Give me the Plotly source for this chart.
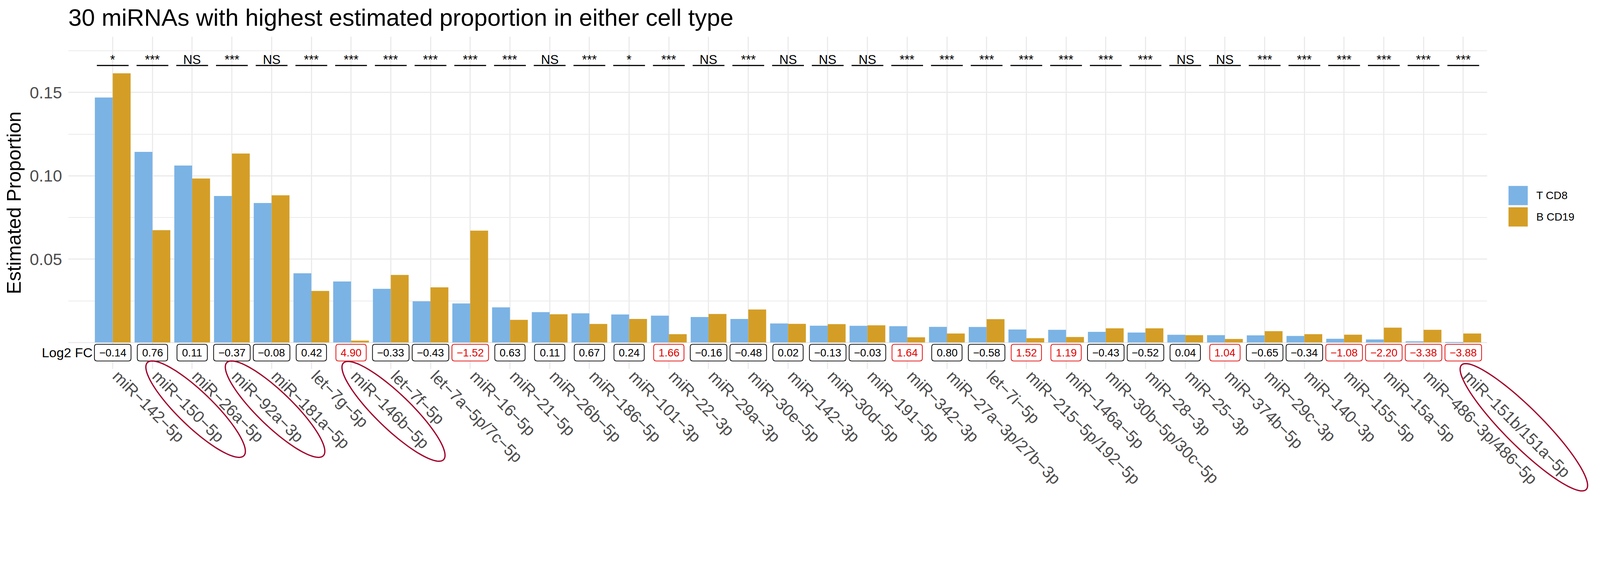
import math
import plotly.graph_objects as go

# ---------------- data ----------------
mirnas = ["miR-142-5p", "miR-150-5p", "miR-26a-5p", "miR-92a-3p", "miR-181a-5p",
          "let-7g-5p", "miR-146b-5p", "let-7f-5p", "let-7a-5p/7c-5p", "miR-16-5p",
          "miR-21-5p", "miR-26b-5p", "miR-186-5p", "miR-101-3p", "miR-22-3p",
          "miR-29a-3p", "miR-30e-5p", "miR-142-3p", "miR-30d-5p", "miR-191-5p",
          "miR-342-3p", "miR-27a-3p/27b-3p", "let-7i-5p", "miR-215-5p/192-5p", "miR-146a-5p",
          "miR-30b-5p/30c-5p", "miR-28-3p", "miR-25-3p", "miR-374b-5p", "miR-29c-3p",
          "miR-140-3p", "miR-155-5p", "miR-15a-5p", "miR-486-3p/486-5p", "miR-151b/151a-5p"]

t_cd8 = [0.1470, 0.1144, 0.1062, 0.0879, 0.0837, 0.0415, 0.0366, 0.0322, 0.0247, 0.0234,
         0.0211, 0.0182, 0.0175, 0.0168, 0.0161, 0.0153, 0.0141, 0.0114, 0.0101, 0.0100,
         0.0098, 0.0094, 0.0093, 0.0078, 0.0076, 0.0064, 0.0060, 0.0046, 0.0044, 0.0043,
         0.0039, 0.0022, 0.0018, 0.0007, 0.0003]

b_cd19 = [0.1615, 0.0674, 0.0984, 0.1134, 0.0883, 0.0309, 0.0011, 0.0405, 0.0331, 0.0671,
          0.0136, 0.0169, 0.0111, 0.0141, 0.0050, 0.0171, 0.0198, 0.0112, 0.0110, 0.0103,
          0.0031, 0.0054, 0.0140, 0.0026, 0.0033, 0.0085, 0.0085, 0.0044, 0.0021, 0.0068,
          0.0050, 0.0047, 0.0089, 0.0076, 0.0054]

log2fc = [-0.14, 0.76, 0.11, -0.37, -0.08, 0.42, 4.90, -0.33, -0.43, -1.52,
          0.63, 0.11, 0.67, 0.24, 1.66, -0.16, -0.48, 0.02, -0.13, -0.03,
          1.64, 0.80, -0.58, 1.52, 1.19, -0.43, -0.52, 0.04, 1.04, -0.65,
          -0.34, -1.08, -2.20, -3.38, -3.88]

signif = ["*", "***", "NS", "***", "NS", "***", "***", "***", "***", "***",
          "***", "NS", "***", "*", "***", "NS", "***", "NS", "NS", "NS",
          "***", "***", "***", "***", "***", "***", "***", "NS", "NS", "***",
          "***", "***", "***", "***", "***"]

highlighted = ["miR-150-5p", "miR-92a-3p", "miR-146b-5p", "miR-151b/151a-5p"]

y_ticks = [0, 0.05, 0.10, 0.15]
y_ticktext = ["", "0.05", "0.10", "0.15"]
y_minor = [0.025, 0.075, 0.125, 0.175]

# ---------------- style / layout ----------------
BLUE = "#7BB3E5"
GOLD = "#D49E26"
GRID = "#EBEBEB"
RED = "#E00000"
ELL = "#A0002A"
FONT = "Liberation Sans, Arial, Helvetica, sans-serif"
MINUS = "\u2212"

# geometry is designed in target-picture pixels, then mapped to page (CSS) pixels
S = 1.077      # picture px per CSS px
OFF = 8        # page body margin (CSS px)


def css(p):
    return p / S - OFF


def sz(p):
    return p / S


W = round(4425 / S) - 2 * OFF
H = round(1460 / S) - 2 * OFF
PL, PR, PT, PB = css(189), css(4100), css(101), css(1018)   # panel edges
ML, MR, MT, MB = PL, W - PR, PT, H - PB
pw, ph = PR - PL, PB - PT

xr = [-1.117, 34.60]
yr = [-0.01587, 0.18348]
SIG_Y = 0.1662
FC_Y = -0.00609
FC_FONT = 29.6
CHAR_W = {"0": .556, "1": .556, "2": .556, "3": .556, "4": .556, "5": .556, "6": .556,
          "7": .556, "8": .556, "9": .556, ".": .278, MINUS: .584}


def ref_x_of_cat(k):      # picture px of category index k
    return 189 + (k - xr[0]) / (xr[1] - xr[0]) * (4100 - 189)


def paper_x(p):
    return (css(p) - PL) / pw


def paper_y(p):
    return (PB - css(p)) / ph


def disp(s):
    return s.replace("-", MINUS)


def rounded_box(w, h, r):
    x0, x1, y0, y1 = -w / 2, w / 2, -h / 2, h / 2
    return (f"M {x0 + r},{y0} L {x1 - r},{y0} Q {x1},{y0} {x1},{y0 + r} "
            f"L {x1},{y1 - r} Q {x1},{y1} {x1 - r},{y1} L {x0 + r},{y1} "
            f"Q {x0},{y1} {x0},{y1 - r} L {x0},{y0 + r} Q {x0},{y0} {x0 + r},{y0} Z")


fig = go.Figure()
fig.add_bar(x=mirnas, y=t_cd8, name="T CD8", marker=dict(color=BLUE, line=dict(width=0)),
            showlegend=False)
fig.add_bar(x=mirnas, y=b_cd19, name="B CD19", marker=dict(color=GOLD, line=dict(width=0)),
            showlegend=False)

shapes = []
annotations = []

# significance bars + labels
for i, (m, s) in enumerate(zip(mirnas, signif)):
    shapes.append(dict(type="line", xref="x", yref="y", x0=i - 0.4, x1=i + 0.4,
                       y0=SIG_Y, y1=SIG_Y, line=dict(color="black", width=sz(3.3))))
    annotations.append(dict(x=m, y=SIG_Y, xref="x", yref="y", text=s, showarrow=False,
                            yanchor="bottom", yshift=-sz(6),
                            font=dict(family=FONT, size=sz(35), color="black")))

# log2 FC labels in rounded boxes
for i, (m, v) in enumerate(zip(mirnas, log2fc)):
    col = RED if abs(v) > 1 else "black"
    txt = disp(f"{v:.2f}")
    tw = sum(CHAR_W.get(c, .556) for c in txt) * FC_FONT
    shapes.append(dict(type="path", xref="x", yref="y", xsizemode="pixel",
                       ysizemode="pixel", xanchor=i, yanchor=FC_Y,
                       path=rounded_box(sz(tw + 26), sz(46), sz(7)),
                       fillcolor="white", line=dict(color=col, width=sz(2))))
    annotations.append(dict(x=m, y=FC_Y, xref="x", yref="y", text=txt,
                            showarrow=False, yanchor="middle", xanchor="center",
                            font=dict(family=FONT, size=sz(FC_FONT), color=col)))
annotations.append(dict(x=paper_x(258), y=FC_Y, xref="paper", yref="y", text="Log2 FC",
                        showarrow=False, xanchor="right", yanchor="middle",
                        font=dict(family=FONT, size=sz(36.5), color="black")))

# custom legend (large square keys)
leg = [("T CD8", BLUE, 513), ("B CD19", GOLD, 572)]
for name, col, top in leg:
    shapes.append(dict(type="rect", xref="paper", yref="paper",
                       x0=paper_x(4159), x1=paper_x(4212),
                       y0=paper_y(top + 53), y1=paper_y(top),
                       fillcolor=col, line=dict(width=0)))
    annotations.append(dict(x=paper_x(4233), y=paper_y(top + 26.5), xref="paper",
                            yref="paper", text=name, showarrow=False, xanchor="left",
                            yanchor="middle",
                            font=dict(family=FONT, size=sz(30), color="black")))


# ellipses around highlighted labels
def ellipse_path(cx, cy, a, b, ang_deg):
    ang = math.radians(ang_deg)
    pts = []
    for j in range(96):
        t = 2 * math.pi * j / 96
        ux, vy = a * math.cos(t), b * math.sin(t)
        X = cx + ux * math.cos(ang) - vy * math.sin(ang)
        Y = cy + ux * math.sin(ang) + vy * math.cos(ang)
        pts.append(f"{paper_x(X):.5f},{paper_y(Y):.5f}")
    return "M " + " L ".join(pts) + " Z"


ell_geom = {"miR-150-5p": (119, 1129, 185, 48, 44),
            "miR-92a-3p": (119, 1129, 185, 48, 44),
            "miR-146b-5p": (117, 1135, 192, 48, 44),
            "miR-151b/151a-5p": (167, 1179, 243, 52, 45)}
for m in highlighted:
    dx, cy, a, b, ang = ell_geom[m]
    k = mirnas.index(m)
    shapes.append(dict(type="path", xref="paper", yref="paper",
                       path=ellipse_path(ref_x_of_cat(k) + dx, cy, a, b, ang),
                       line=dict(color=ELL, width=sz(3.5))))

fig.update_layout(
    width=W, height=H, autosize=False,
    margin=dict(l=ML, r=MR, t=MT, b=MB, pad=0, autoexpand=False),
    paper_bgcolor="white", plot_bgcolor="white",
    barmode="group", bargap=0.1, bargroupgap=0,
    font=dict(family=FONT, color="black"),
    title=dict(text="30 miRNAs with highest estimated proportion in either cell type",
               x=0, xref="paper", xanchor="left", y=1 - (css(69) + 2) / H,
               yref="container", yanchor="bottom",
               font=dict(family=FONT, size=sz(66), color="black")),
    xaxis=dict(type="category", categoryorder="array", categoryarray=mirnas,
               tickmode="array", tickvals=mirnas, ticktext=[disp(m) for m in mirnas],
               tickangle=45, tickfont=dict(family=FONT, size=sz(45), color="#4D4D4D"),
               ticklabelstandoff=-15, ticklabelshift=12,
               range=xr, showgrid=True, gridcolor=GRID, gridwidth=sz(3.5),
               showline=False, zeroline=False, ticks="", automargin=False),
    yaxis=dict(range=yr, tickmode="array", tickvals=y_ticks, ticktext=y_ticktext,
               tickfont=dict(family=FONT, size=sz(46), color="#4D4D4D"),
               showgrid=True, gridcolor=GRID, gridwidth=sz(3.5), zeroline=False,
               showline=False, ticks="", ticklabelstandoff=round(sz(16)), automargin=False,
               minor=dict(tickvals=y_minor, showgrid=True, gridcolor=GRID,
                          gridwidth=sz(1.8)),
               title=dict(text="Estimated Proportion", standoff=round(sz(6)),
                          font=dict(family=FONT, size=sz(54), color="black"))),
    shapes=shapes,
    annotations=annotations,
)

fig.write_html("out.html")
